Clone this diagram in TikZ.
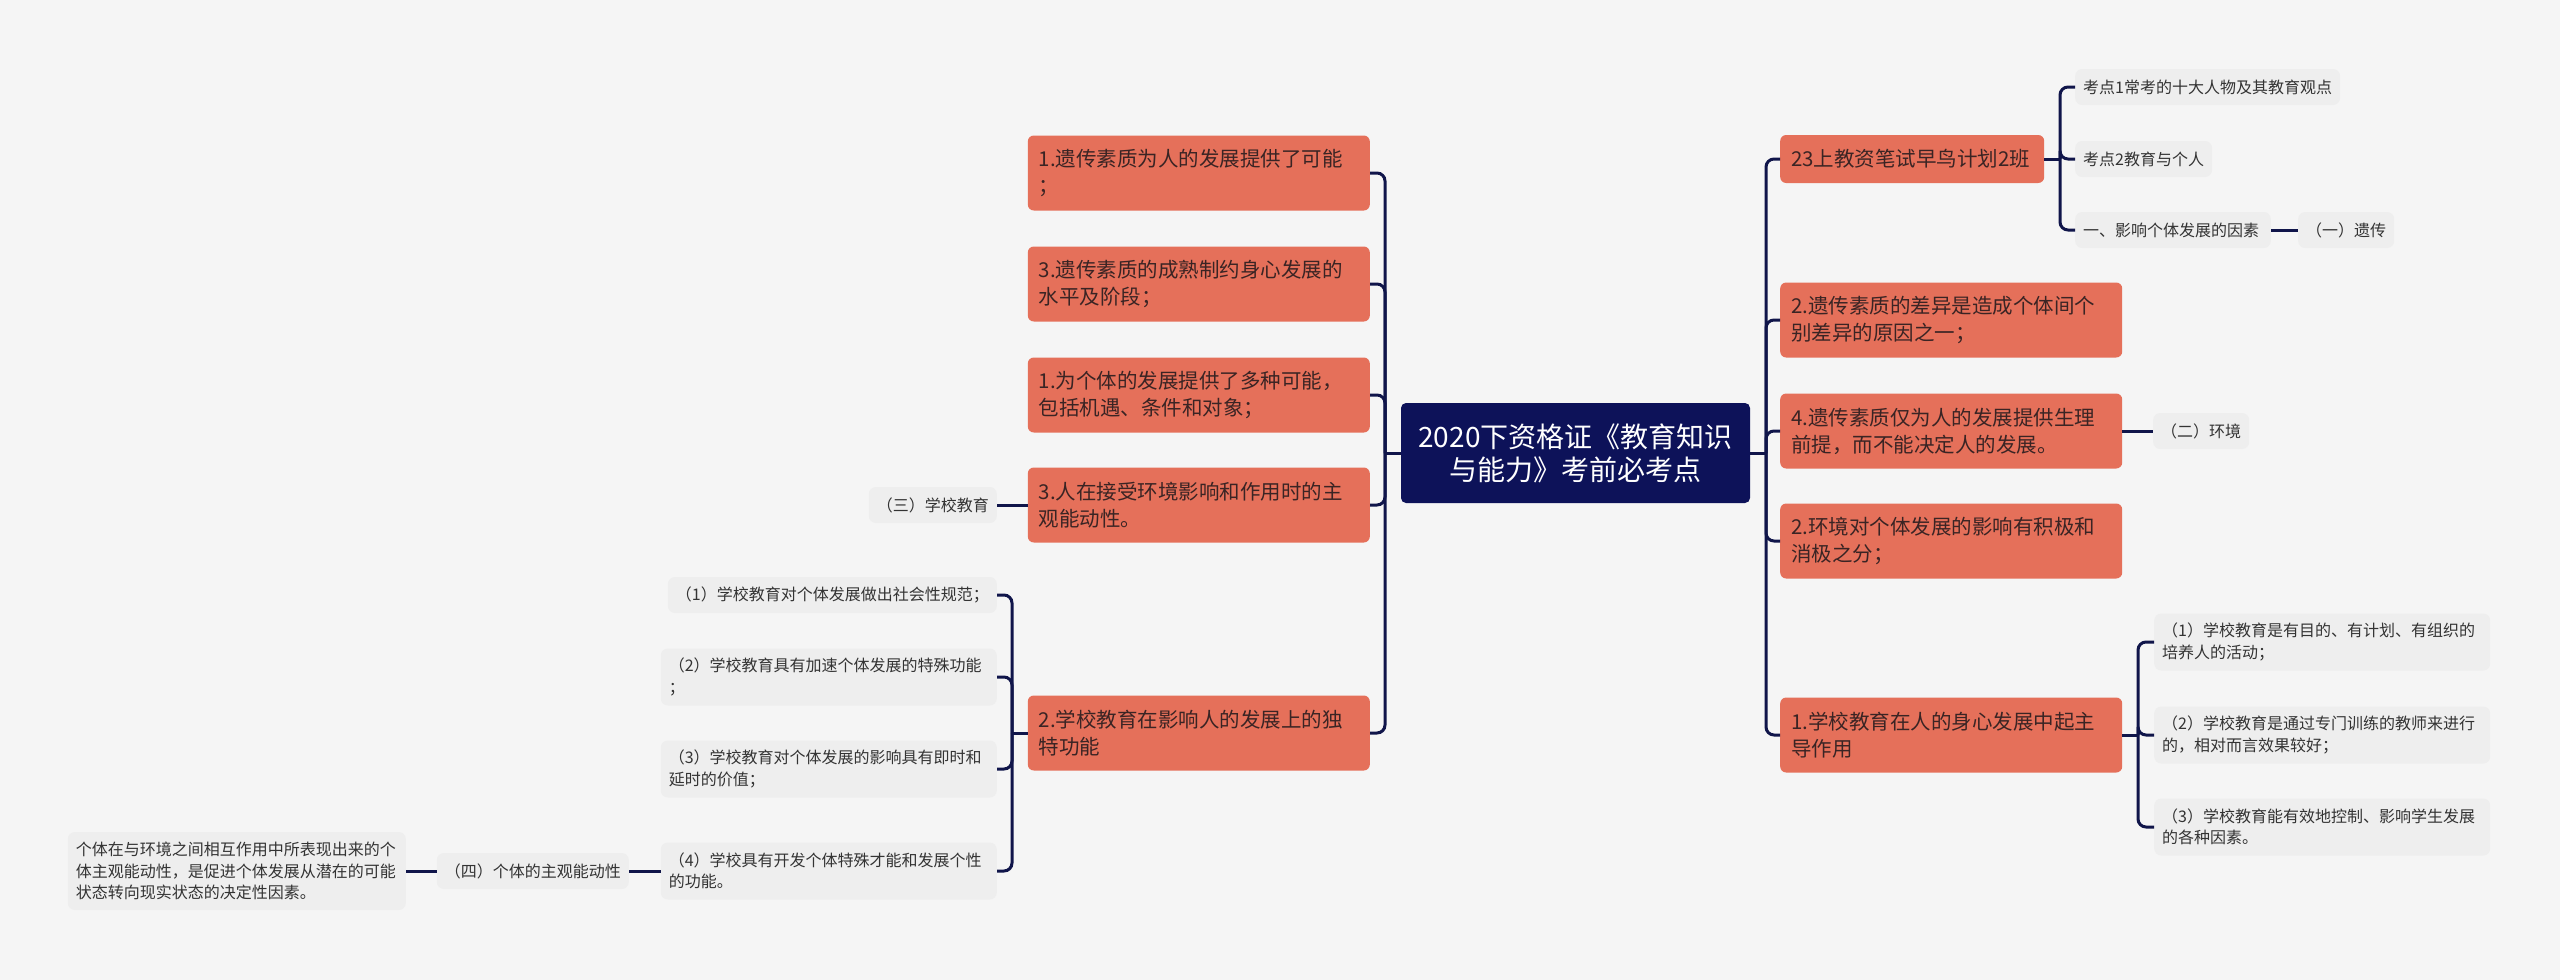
\documentclass[tikz,border=0pt]{standalone}
\usepackage{fontspec}
\newfontfamily\cjk{Noto Sans CJK SC}
\definecolor{bgcol}{HTML}{F5F5F5}
\definecolor{rootcol}{HTML}{0D1259}
\definecolor{topiccol}{HTML}{E5705A}
\definecolor{topictext}{HTML}{3A2424}
\definecolor{leafcol}{HTML}{EEEEEE}
\definecolor{leaftext}{HTML}{333333}
\definecolor{linecol}{HTML}{10154A}
\begin{document}
\begin{tikzpicture}[
        x=1pt, y=-1pt,
        root/.style={fill=rootcol, text=white, rounded corners=5pt, minimum width=349pt, minimum height=100pt, align=center, font=\cjk\fontsize{28}{33}\selectfont},
        topic/.style={fill=topiccol, text=topictext, rounded corners=6pt, minimum height=75pt, inner xsep=11pt, text width=320pt, align=left, font=\cjk\fontsize{20.5}{27}\selectfont},
        leaf/.style={fill=leafcol, text=leaftext, rounded corners=7pt, minimum height=36pt, inner xsep=8pt, align=left, font=\cjk\fontsize{16}{21.5}\selectfont},
        link/.style={draw=linecol, line width=3pt, rounded corners=8pt}
    ]
        \useasboundingbox (0,0) rectangle (2560,980);
        \fill[bgcol] (0,0) rectangle (2560,980);

        % central topic
        \node[root] (root) at (1575.5,453) {2020下资格证《教育知识\\与能力》考前必考点};

        % left branches
        \foreach \n/\y/\t in {
            l1/173/{1.遗传素质为人的发展提供了可能\\；},
            l2/284/{3.遗传素质的成熟制约身心发展的\\水平及阶段；},
            l3/395/{1.为个体的发展提供了多种可能，\\包括机遇、条件和对象；},
            l4/505/{3.人在接受环境影响和作用时的主\\观能动性。},
            l5/733/{2.学校教育在影响人的发展上的独\\特功能}
        } {
            \node[topic, anchor=east] (\n) at (1370,\y) {\t};
        }

        % right branches
        \node[topic, anchor=west, text width=242pt, minimum height=48pt] (r1) at (1780,159) {23上教资笔试早鸟计划2班};
        \foreach \n/\y/\t in {
            r2/320/{2.遗传素质的差异是造成个体间个\\别差异的原因之一；},
            r3/431/{4.遗传素质仅为人的发展提供生理\\前提，而不能决定人的发展。},
            r4/541/{2.环境对个体发展的影响有积极和\\消极之分；},
            r5/735/{1.学校教育在人的身心发展中起主\\导作用}
        } {
            \node[topic, anchor=west] (\n) at (1780,\y) {\t};
        }

        % leaves on the right
        \foreach \n/\y/\t in {
            g1/87/{考点1常考的十大人物及其教育观点},
            g2/159/{考点2教育与个人},
            g3/230/{一、影响个体发展的因素}
        } {
            \node[leaf, anchor=west] (\n) at (2075,\y) {\t};
        }
        \node[leaf, anchor=west] (g3a) at (2298,230) {（一）遗传};
        \node[leaf, anchor=west] (r3a) at (2153,431) {（二）环境};
        \foreach \n/\y/\t in {
            s1/642/{（1）学校教育是有目的、有计划、有组织的\\培养人的活动；},
            s2/735/{（2）学校教育是通过专门训练的教师来进行\\的，相对而言效果较好；},
            s3/827/{（3）学校教育能有效地控制、影响学生发展\\的各种因素。}
        } {
            \node[leaf, anchor=west, text width=320pt, minimum height=57pt] (\n) at (2154,\y) {\t};
        }

        % leaves on the left
        \node[leaf, anchor=east] (l4a) at (997,505) {（三）学校教育};
        \node[leaf, anchor=east] (c1) at (997,595) {（1）学校教育对个体发展做出社会性规范；};
        \foreach \n/\y/\t in {
            c2/677/{（2）学校教育具有加速个体发展的特殊功能\\；},
            c3/769/{（3）学校教育对个体发展的影响具有即时和\\延时的价值；},
            c4/871/{（4）学校具有开发个体特殊才能和发展个性\\的功能。}
        } {
            \node[leaf, anchor=east, text width=320pt, minimum height=57pt] (\n) at (997,\y) {\t};
        }
        \node[leaf, anchor=east] (c4a) at (629,871) {（四）个体的主观能动性};
        \node[leaf, anchor=east, text width=322pt, minimum height=78pt] (c4b) at (406,871) {个体在与环境之间相互作用中所表现出来的个\\体主观能动性，是促进个体发展从潜在的可能\\状态转向现实状态的决定性因素。};

        % connectors
        \coordinate (lbus) at (1385,453);
        \coordinate (rbus) at (1766,453);
        \coordinate (r1bus) at (2060,159);
        \coordinate (r5bus) at (2138,735);
        \coordinate (l5bus) at (1012,733);
        \draw[link] (root.west) -- (lbus);
        \draw[link] (root.east) -- (rbus);
        \foreach \n in {l1,l2,l3,l4,l5} \draw[link] (lbus) |- (\n.east);
        \foreach \n in {r1,r2,r3,r4,r5} \draw[link] (rbus) |- (\n.west);
        \draw[link] (r1.east) -- (r1bus);
        \foreach \n in {g1,g2,g3} \draw[link] (r1bus) |- (\n.west);
        \draw[link] (r5.east) -- (r5bus);
        \foreach \n in {s1,s2,s3} \draw[link] (r5bus) |- (\n.west);
        \draw[link] (l5.west) -- (l5bus);
        \foreach \n in {c1,c2,c3,c4} \draw[link] (l5bus) |- (\n.east);
        \draw[link] (g3) -- (g3a);
        \draw[link] (r3) -- (r3a);
        \draw[link] (l4a) -- (l4);
        \draw[link] (c4) -- (c4a);
        \draw[link] (c4a) -- (c4b);
    \end{tikzpicture}
\end{document}
